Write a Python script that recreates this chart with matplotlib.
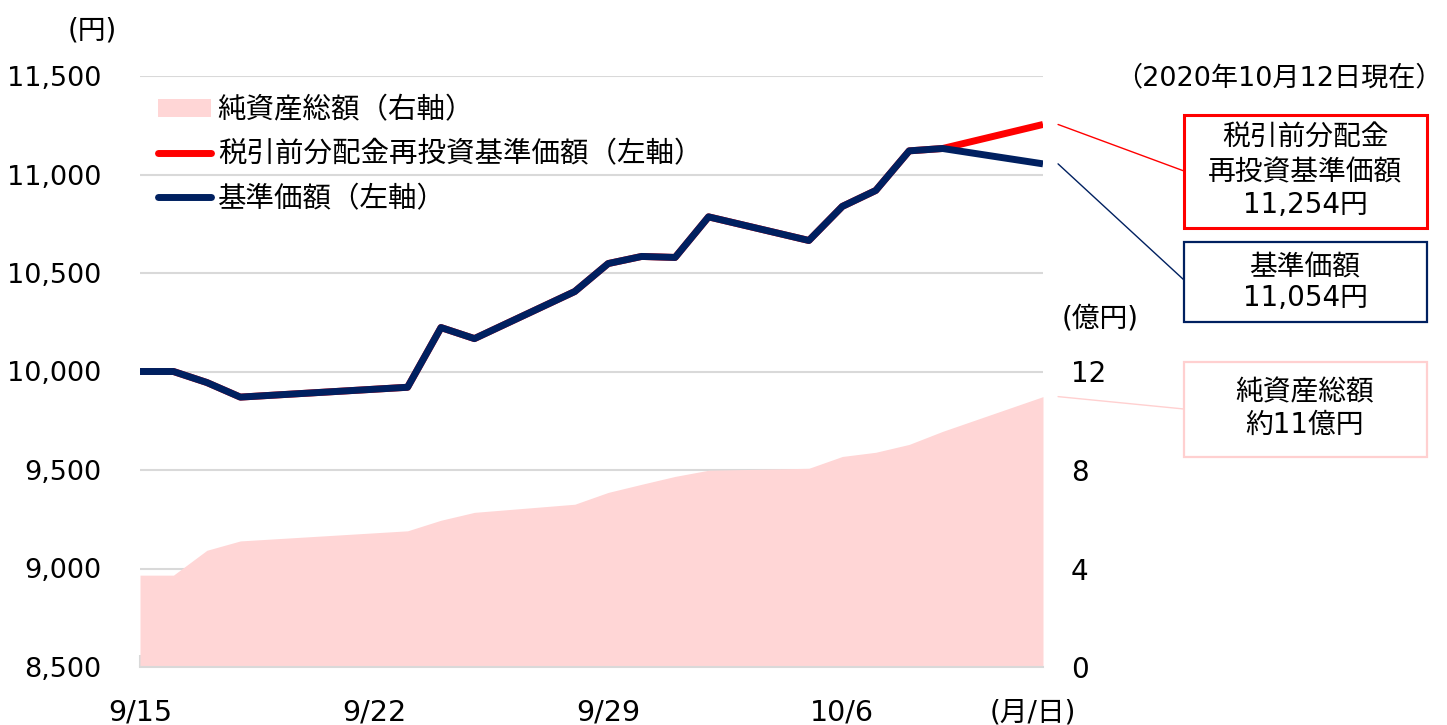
import matplotlib
matplotlib.use("Agg")
import matplotlib.pyplot as plt
import matplotlib.dates as mdates
from matplotlib.patches import Rectangle, ConnectionPatch, Patch
from matplotlib.lines import Line2D
import pandas as pd

plt.rcParams['font.family'] = ['DejaVu Sans', 'Noto Sans CJK JP']
plt.rcParams['font.size'] = 20

# ---- data ----
dates = pd.to_datetime([
    "2020-09-15", "2020-09-16", "2020-09-17", "2020-09-18", "2020-09-23",
    "2020-09-24", "2020-09-25", "2020-09-28", "2020-09-29", "2020-09-30",
    "2020-10-01", "2020-10-02", "2020-10-05", "2020-10-06", "2020-10-07",
    "2020-10-08", "2020-10-09", "2020-10-12"])
nav = [10000, 10000, 9944, 9870, 9920, 10223, 10167, 10406, 10548, 10584,
       10579, 10785, 10665, 10838, 10919, 11120, 11132, 11054]
nav_reinvest = [10000, 10000, 9944, 9870, 9920, 10223, 10167, 10406, 10548, 10584,
                10579, 10785, 10665, 10838, 10919, 11120, 11132, 11254]
net_assets = [3.73, 3.73, 4.74, 5.12, 5.53, 5.96, 6.28, 6.61, 7.09, 7.42,
              7.74, 7.99, 8.07, 8.55, 8.72, 9.04, 9.57, 10.98]
xtick_dates = pd.to_datetime(["2020-09-15", "2020-09-22", "2020-09-29", "2020-10-06"])
xtick_labels = ["9/15", "9/22", "9/29", "10/6"]
left_ticks = [8500, 9000, 9500, 10000, 10500, 11000, 11500]
right_ticks = [0, 4, 8, 12, 16, 20, 24]
right_labels = ["0", "4", "8", "12", "", "", ""]
legend_labels = ["純資産総額（右軸）", "税引前分配金再投資基準価額（左軸）", "基準価額（左軸）"]

NAVY = "#002060"
RED = "#FF0000"
PINK = "#FFD6D6"
PINK_EDGE = "#FFD0D0"
GRID = "#D9D9D9"

W, H = 1447, 725
fig = plt.figure(figsize=(W / 100, H / 100), dpi=100)

def fx(px):
    return px / W

def fy(py):
    return 1 - py / H

ax2 = fig.add_axes([fx(140), fy(667), fx(1043) - fx(140), fy(76) - fy(667)])
ax = ax2.twinx()
ax2.yaxis.tick_right()
ax.yaxis.tick_left()

# area (right scale)
ax2.fill_between(dates, net_assets, 0, color=PINK, lw=0, zorder=2)
ax2.set_ylim(0, 24)
ax2.set_yticks(right_ticks)
ax2.set_yticklabels(right_labels)
ax2.grid(axis='y', color=GRID, lw=1.5, zorder=0)
ax2.set_axisbelow(True)
ax2.tick_params(axis='y', length=0, pad=20, labelsize=20, right=False, labelright=True,
                left=False, labelleft=False)
for lbl in ax2.get_yticklabels():
    lbl.set_horizontalalignment('left')

# lines (left scale)
ax.plot(dates, nav_reinvest, color=RED, lw=5, solid_joinstyle='round', solid_capstyle='butt', zorder=3)
ax.plot(dates, nav, color=NAVY, lw=5, solid_joinstyle='round', solid_capstyle='butt', zorder=4)
ax.set_ylim(8500, 11500)
ax.set_yticks(left_ticks)
ax.set_yticklabels([f"{v:,}" for v in left_ticks])
ax.tick_params(axis='y', length=0, pad=28, labelsize=19.5, left=True, labelleft=True,
               right=False, labelright=False)

xmin, xmax = pd.Timestamp("2020-09-15"), pd.Timestamp("2020-10-12")
ax.set_xlim(xmin, xmax)
ax2.set_xlim(xmin, xmax)
ax2.set_xticks(xtick_dates)
ax2.set_xticklabels(xtick_labels)
ax2.tick_params(axis='x', direction='in', length=9, width=1.5, color=GRID, pad=23, labelsize=20.5)
ax.tick_params(axis='x', bottom=False, labelbottom=False)

for a in (ax, ax2):
    for s in ('top', 'left', 'right'):
        a.spines[s].set_visible(False)
ax.spines['bottom'].set_visible(False)
ax2.spines['bottom'].set_color(GRID)
ax2.spines['bottom'].set_linewidth(1.5)
ax2.spines['bottom'].set_zorder(5)

# legend
handles = [Patch(facecolor=PINK, edgecolor='none'),
           Line2D([], [], color=RED, lw=5, solid_capstyle='round'),
           Line2D([], [], color=NAVY, lw=5, solid_capstyle='round')]
leg = ax.legend(handles, legend_labels, loc='upper left',
                bbox_to_anchor=(fx(158), fy(96)), bbox_transform=fig.transFigure,
                frameon=False, fontsize=20.5, handlelength=1.85, handleheight=0.6,
                handletextpad=0.25, labelspacing=0.58, borderpad=0, borderaxespad=0)

# axis unit labels
fig.text(fx(92), fy(30), "(円)", ha='center', va='center', fontsize=20)
fig.text(fx(1100), fy(318), "(億円)", ha='center', va='center', fontsize=20)
fig.text(fx(1033), fy(712), "(月/日)", ha='center', va='center', fontsize=20)
fig.text(fx(1443), fy(78), "（2020年10月12日現在）", ha='right', va='center', fontsize=19.5)

# annotation boxes
def box(y0, y1, ec, lw, lines, ys):
    fig.add_artist(Rectangle((fx(1184), fy(y1)), fx(1427) - fx(1184), fy(y0) - fy(y1),
                             transform=fig.transFigure, facecolor='white', edgecolor=ec, lw=lw))
    for t, y in zip(lines, ys):
        fig.text(fx(1305), fy(y), t, ha='center', va='center', fontsize=20)

box(115, 228, RED, 2.2, ["税引前分配金", "再投資基準価額", f"{nav_reinvest[-1]:,}円"], [138, 172, 205])
box(242, 322, NAVY, 1.6, ["基準価額", f"{nav[-1]:,}円"], [267, 298])
box(362, 457, PINK_EDGE, 1.6, ["純資産総額", "約11億円"], [392, 425])

# connectors
xe = mdates.date2num(dates[-1]) + 0.45
for a, yv, yb, c in [(ax, nav_reinvest[-1], 171, RED), (ax, nav[-1], 280, NAVY),
                     (ax2, net_assets[-1], 409, PINK_EDGE)]:
    con = ConnectionPatch(xyA=(xe, yv), coordsA=a.transData,
                          xyB=(fx(1184), fy(yb)), coordsB=fig.transFigure,
                          color=c, lw=1.0)
    fig.add_artist(con)

fig.savefig("out.png", dpi=100)
